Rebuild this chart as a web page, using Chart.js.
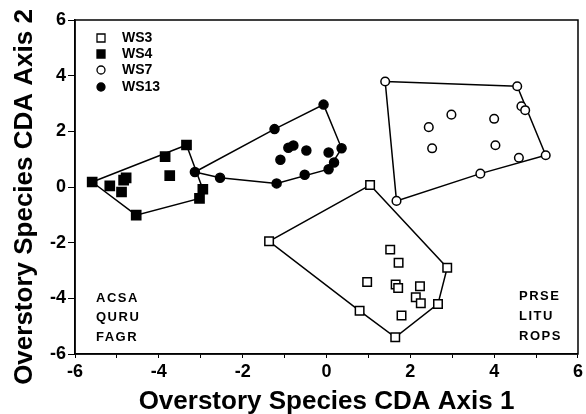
<!DOCTYPE html>
<html>
<head>
<meta charset="utf-8">
<script src="https://cdn.jsdelivr.net/npm/chart.js@4"></script>
<style>
  html, body { margin: 0; padding: 0; background: #fff; }
</style>
</head>
<body>
<canvas id="graficoCDA" width="586" height="414"></canvas>
<script>
// Puntos por cuenca (ejes CDA 1 y 2)
const ws3X = [1.04, -1.37, 2.88, 2.66, 1.64, 0.79, 1.52, 1.72, 0.97, 1.65, 1.71, 2.23, 2.13, 2.25, 1.79];
const ws3Y = [0.07, -1.95, -2.90, -4.20, -5.40, -4.45, -2.25, -2.72, -3.41, -3.50, -3.63, -3.57, -3.96, -4.18, -4.62];

const ws4X = [-5.59, -5.17, -4.89, -4.84, -4.78, -4.54, -3.85, -3.74, -3.34, -2.95, -3.03];
const ws4Y = [0.18, 0.04, -0.18, 0.25, 0.33, -1.01, 1.09, 0.41, 1.51, -0.08, -0.41];

const ws7X = [1.40, 4.55, 4.65, 4.74, 5.23, 4.59, 3.67, 1.67, 2.44, 2.98, 2.52, 4.00, 4.03];
const ws7Y = [3.79, 3.62, 2.90, 2.76, 1.14, 1.05, 0.48, -0.50, 2.15, 2.60, 1.39, 2.45, 1.50];

const ws13X = [-3.14, -2.54, -1.24, -1.10, -0.91, -0.79, -0.48, -1.19, -0.52, -0.07, 0.05, 0.36, 0.18, 0.05];
const ws13Y = [0.54, 0.33, 2.08, 0.98, 1.41, 1.49, 1.31, 0.13, 0.44, 2.96, 1.24, 1.39, 0.88, 0.64];

// Poligonos envolventes (vertices tomados de los puntos)
const hullWs3X = [1.04, 2.88, 2.66, 1.64, 0.79, -1.37, 1.04];
const hullWs3Y = [0.07, -2.90, -4.20, -5.40, -4.45, -1.95, 0.07];
const hullWs4X = [-5.59, -3.34, -2.95, -3.03, -4.54, -5.59];
const hullWs4Y = [0.18, 1.51, -0.08, -0.41, -1.01, 0.18];
const hullWs7X = [1.40, 4.55, 5.23, 3.67, 1.67, 1.40];
const hullWs7Y = [3.79, 3.62, 1.14, 0.48, -0.50, 3.79];
const hullWs13X = [-3.14, -1.24, -0.07, 0.36, 0.05, -1.19, -2.54, -3.14];
const hullWs13Y = [0.54, 2.08, 2.96, 1.39, 0.64, 0.13, 0.33, 0.54];

const seriesLabels = ['WS3', 'WS4', 'WS7', 'WS13'];
const speciesLeft = ['ACSA', 'QURU', 'FAGR'];
const speciesRight = ['PRSE', 'LITU', 'ROPS'];
const axisTicks = [-6, -4, -2, 0, 2, 4, 6];
const xTitle = 'Overstory Species CDA Axis 1';
const yTitle = 'Overstory Species CDA Axis 2';

const FONT = '"Liberation Sans", Arial, sans-serif';

function toPoints(xs, ys) {
  return xs.map((x, i) => ({ x: x, y: ys[i] }));
}

function pointSet(label, xs, ys, style, filled, radius) {
  return {
    label: label,
    data: toPoints(xs, ys),
    showLine: false,
    pointStyle: style,
    pointRadius: radius,
    pointBorderWidth: 1.5,
    pointBorderColor: '#000',
    pointBackgroundColor: filled ? '#000' : '#fff',
    order: 0
  };
}

function hullSet(xs, ys) {
  return {
    label: 'hull',
    data: toPoints(xs, ys),
    showLine: true,
    borderColor: '#000',
    borderWidth: 1.5,
    pointRadius: 0,
    fill: false,
    tension: 0,
    order: 1
  };
}

// Marco, titulos de ejes, leyenda y etiquetas de especies
const extras = {
  id: 'extras',
  afterDatasetsDraw(chart) {
    const { ctx, chartArea } = chart;
    ctx.save();
    ctx.strokeStyle = '#000';
    ctx.lineWidth = 1.5;
    ctx.strokeRect(chartArea.left, chartArea.top, chartArea.right - chartArea.left, chartArea.bottom - chartArea.top);

    // titulos
    ctx.fillStyle = '#000';
    ctx.font = 'bold 26px ' + FONT;
    ctx.textAlign = 'center';
    ctx.textBaseline = 'middle';
    ctx.fillText(xTitle, (chartArea.left + chartArea.right) / 2, 402);
    ctx.save();
    ctx.translate(25, 197);
    ctx.rotate(-Math.PI / 2);
    ctx.fillText(yTitle, 0, 0);
    ctx.restore();

    // leyenda
    const rows = [38, 54, 70, 87];
    ctx.lineWidth = 1.3;
    rows.forEach((y, i) => {
      const x = 101;
      ctx.beginPath();
      if (i < 2) {
        ctx.rect(x - 4, y - 4, 8, 8);
      } else {
        ctx.arc(x, y, 4, 0, Math.PI * 2);
      }
      ctx.fillStyle = (i === 1 || i === 3) ? '#000' : '#fff';
      ctx.fill();
      ctx.stroke();
      ctx.fillStyle = '#000';
      ctx.font = 'bold 14px ' + FONT;
      ctx.textBaseline = 'middle';
      ctx.textAlign = 'left';
      ctx.fillText(seriesLabels[i], 122, y);
    });

    ctx.font = 'bold 13px ' + FONT;
    if ('letterSpacing' in ctx) ctx.letterSpacing = '1.5px';
    ctx.textAlign = 'left';
    ctx.textBaseline = 'middle';
    speciesLeft.forEach((t, i) => ctx.fillText(t, 96, 298 + i * 19.5));
    speciesRight.forEach((t, i) => ctx.fillText(t, 519, 296 + i * 20));
    ctx.restore();
  }
};

const data = {
  datasets: [
    pointSet('WS3', ws3X, ws3Y, 'rect', false, 6),
    pointSet('WS4', ws4X, ws4Y, 'rect', true, 6.5),
    pointSet('WS7', ws7X, ws7Y, 'circle', false, 4.3),
    pointSet('WS13', ws13X, ws13Y, 'circle', true, 4.5),
    hullSet(hullWs3X, hullWs3Y),
    hullSet(hullWs4X, hullWs4Y),
    hullSet(hullWs7X, hullWs7Y),
    hullSet(hullWs13X, hullWs13Y)
  ]
};

const config = {
  type: 'scatter',
  data: data,
  plugins: [extras],
  options: {
    responsive: false,
    animation: false,
    layout: { padding: { top: 20, right: 4, left: 0, bottom: 0 } },
    plugins: {
      legend: { display: false },
      tooltip: { enabled: false }
    },
    scales: {
      x: {
        type: 'linear',
        min: -6,
        max: 6,
        afterFit: (s) => { s.height = 60; },
        ticks: {
          stepSize: 1,
          autoSkip: false,
          maxRotation: 0,
          padding: 3,
          color: '#000',
          font: { family: FONT, size: 18, weight: 'bold' },
          callback: (v) => (axisTicks.includes(v) ? String(v) : '')
        },
        grid: { drawOnChartArea: false, drawTicks: true, tickLength: 4, color: '#000', lineWidth: 1 },
        border: { color: '#000', width: 1.5 }
      },
      y: {
        type: 'linear',
        min: -6,
        max: 6,
        afterFit: (s) => { s.width = 75; },
        ticks: {
          stepSize: 2,
          padding: 2,
          color: '#000',
          font: { family: FONT, size: 18, weight: 'bold' }
        },
        grid: { drawOnChartArea: false, drawTicks: true, tickLength: 7, color: '#000', lineWidth: 1 },
        border: { color: '#000', width: 1.5 }
      }
    }
  }
};

window.addEventListener('DOMContentLoaded', () => {
  const ctx = document.getElementById('graficoCDA').getContext('2d');
  new Chart(ctx, config);
});
</script>
</body>
</html>
